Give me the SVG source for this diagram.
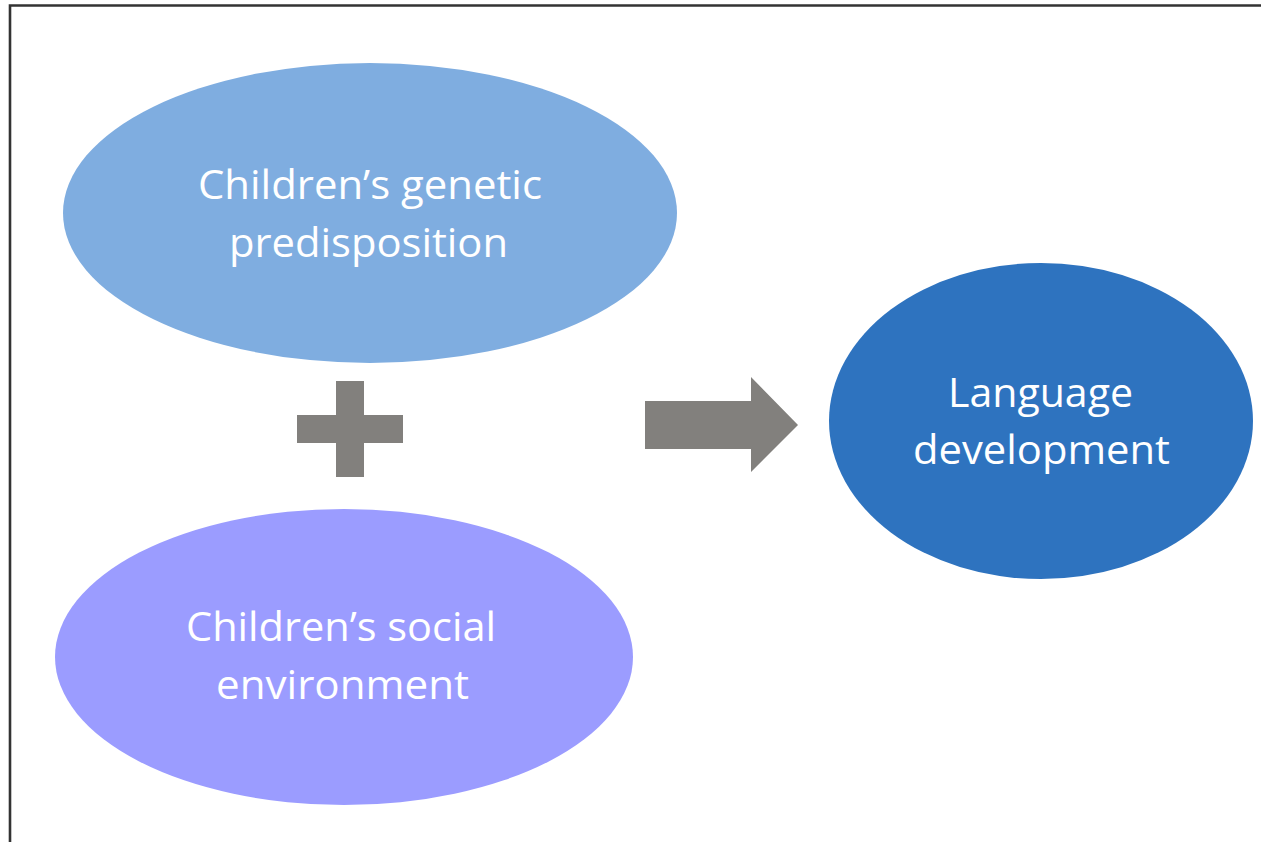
<svg xmlns="http://www.w3.org/2000/svg" width="1261" height="842" viewBox="0 0 1261 842">
<style>
.lbl{font-family:"Open Sans","Noto Sans","Liberation Sans",sans-serif;font-size:40px;fill:#ffffff;text-anchor:middle}
.shape{fill:#82807d}
</style>
<rect width="1261" height="842" fill="#ffffff"/>
<path d="M10,845 V5.5 H1265" fill="none" stroke="#333333" stroke-width="2.6"/>
<g id="connectors">
<path class="shape" d="M336,381 H364 V415 H403 V443 H364 V477 H336 V443 H297 V415 H336 Z"/>
<path class="shape" d="M645,401 H751 V377 L798,425 L751,472 V449 H645 Z"/>
</g>
<g id="genetic">
<ellipse cx="370" cy="213" rx="307" ry="150" fill="#7fade0"/>
<text class="lbl" x="370" y="199" textLength="344" lengthAdjust="spacingAndGlyphs">Children’s genetic</text>
<text class="lbl" x="368.5" y="257" textLength="279" lengthAdjust="spacingAndGlyphs">predisposition</text>
</g>
<g id="social">
<ellipse cx="344" cy="657" rx="289" ry="148" fill="#9b9cff"/>
<text class="lbl" x="341" y="641" textLength="310" lengthAdjust="spacingAndGlyphs">Children’s social</text>
<text class="lbl" x="342.5" y="699" textLength="253" lengthAdjust="spacingAndGlyphs">environment</text>
</g>
<g id="language">
<ellipse cx="1041" cy="421" rx="212" ry="158" fill="#2e73bf"/>
<text class="lbl" x="1040.5" y="407" textLength="185" lengthAdjust="spacingAndGlyphs">Language</text>
<text class="lbl" x="1041.5" y="464" textLength="257" lengthAdjust="spacingAndGlyphs">development</text>
</g>
</svg>
